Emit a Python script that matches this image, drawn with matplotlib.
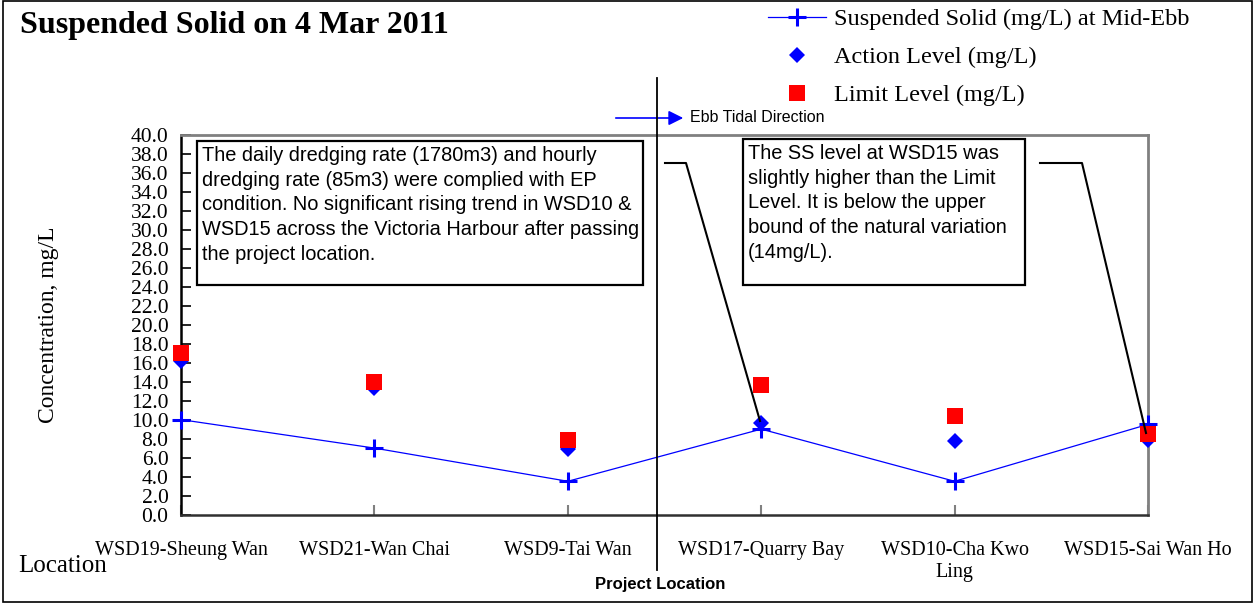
import matplotlib
matplotlib.use("Agg")
import matplotlib.pyplot as plt
from matplotlib.patches import Rectangle, FancyArrowPatch

# ---- data ----
locations = ["WSD19-Sheung Wan", "WSD21-Wan Chai", "WSD9-Tai Wan",
             "WSD17-Quarry Bay", "WSD10-Cha Kwo\nLing", "WSD15-Sai Wan Ho"]
ss_mid_ebb = [10.0, 7.0, 3.5, 9.0, 3.5, 9.5]
action_level = [16.2, 13.3, 6.9, 9.6, 7.7, 7.8]
limit_level = [17.0, 14.0, 7.8, 13.7, 10.4, 8.5]
y_ticks = [i * 2.0 for i in range(21)]
y_tick_labels = ["%.1f" % v for v in y_ticks]

title = "Suspended Solid on 4 Mar 2011"
note_left = ("The daily dredging rate (1780m3) and hourly\n"
             "dredging rate (85m3) were complied with EP\n"
             "condition. No significant rising trend in WSD10 &\n"
             "WSD15 across the Victoria Harbour after passing\n"
             "the project location.")
note_right = ("The SS level at WSD15 was\n"
              "slightly higher than the Limit\n"
              "Level. It is below the upper\n"
              "bound of the natural variation\n"
              "(14mg/L).")

SERIF = "Liberation Serif"
SANS = "Liberation Sans"

W, H = 1255, 603
fig = plt.figure(figsize=(W / 100, H / 100), dpi=100)
fig.patch.set_facecolor("white")

# axes in pixel geometry
L, R, T, B = 181, 1148, 135, 514.5
ax = fig.add_axes([L / W, 1 - B / H, (R - L) / W, (B - T) / H])

x = list(range(len(locations)))
ln_ss, = ax.plot(x, ss_mid_ebb, color="#0000FF", lw=0.9, marker="+",
                 markersize=13, markeredgewidth=2.2, zorder=3, clip_on=False)
ln_act, = ax.plot(x, action_level, ls="none", marker="D", color="#0000FF",
                  markersize=8.3, markeredgewidth=0, zorder=4, clip_on=False)
ln_lim, = ax.plot(x, limit_level, ls="none", marker="s", color="#FF0000",
                  markersize=11.5, markeredgewidth=0, zorder=5, clip_on=False)

ax.set_xlim(0, len(locations) - 1)
ax.set_ylim(0, 40)
ax.set_yticks(y_ticks)
ax.set_yticklabels(y_tick_labels, fontfamily=SERIF, fontsize=15.5)
ax.set_xticks(x)
ax.set_xticklabels(locations, fontfamily=SERIF, fontsize=14.5, va="top",
                   linespacing=1.25)
ax.tick_params(axis="y", direction="in", length=7, width=1.2, color="black",
               pad=9)
ax.tick_params(axis="x", direction="in", length=7, width=1.5, color="#808080",
               pad=19)
for sp in ["top", "right"]:
    ax.spines[sp].set_color("#808080")
    ax.spines[sp].set_linewidth(2)
for sp in ["left", "bottom"]:
    ax.spines[sp].set_color("black")
    ax.spines[sp].set_linewidth(1.8)
ax.spines["bottom"].set_color("#303030")

ax.set_ylabel("Concentration, mg/L", fontfamily=SERIF, fontsize=17,
              labelpad=52)

# pixel -> axes fraction helpers
def fx(px):
    return (px - L) / (R - L)

def fy(py):
    return (B - py) / (B - T)

# project location vertical line
ax.plot([fx(657), fx(657)], [fy(78), fy(570)], transform=ax.transAxes,
        color="black", lw=1.3, clip_on=False, zorder=6)
fig.text(660 / W, 1 - 584 / H, "Project Location", fontfamily=SANS,
         fontweight="bold", fontsize=12, ha="center", va="center")

# ebb tidal direction arrow
arr = FancyArrowPatch((fx(613), fy(118)), (fx(686), fy(118)),
                      transform=ax.transAxes, arrowstyle="-|>",
                      mutation_scale=22, color="#0000FF", lw=1.2,
                      clip_on=False)
ax.add_patch(arr)
fig.text(690 / W, 1 - 118 / H, "Ebb Tidal Direction", fontfamily=SANS,
         fontsize=11.5, ha="left", va="center")

# text boxes
for (x0, y0, x1, y1, txt) in [(197, 141, 643, 285, note_left),
                              (743, 139, 1025, 285, note_right)]:
    rect = Rectangle((fx(x0), fy(y1)), fx(x1) - fx(x0), fy(y0) - fy(y1),
                     transform=ax.transAxes, facecolor="white",
                     edgecolor="black", lw=1.6, zorder=7, clip_on=False)
    ax.add_patch(rect)
    ax.text(fx(x0 + 5), fy(y0 + 5), txt, transform=ax.transAxes,
            fontfamily=SANS, fontsize=14.4, ha="left", va="top",
            linespacing=1.38, zorder=8)

# callout lines
ax.plot([fx(665), fx(686), fx(760)], [fy(163), fy(163), fy(421)],
        transform=ax.transAxes, color="black", lw=1.5, zorder=9, clip_on=False)
ax.plot([fx(1040), fx(1082), fx(1146)], [fy(163), fy(163), fy(433)],
        transform=ax.transAxes, color="black", lw=1.5, zorder=9, clip_on=False)

# title and location label
fig.text(20 / W, 1 - 26 / H, title, fontfamily=SERIF, fontweight="bold",
         fontsize=23, ha="left", va="center")
fig.text(18 / W, 1 - 566 / H, "Location", fontfamily=SERIF, fontsize=18,
         ha="left", va="center")

# legend
leg = fig.legend([ln_ss, ln_act, ln_lim],
                 ["Suspended Solid (mg/L) at Mid-Ebb", "Action Level (mg/L)",
                  "Limit Level (mg/L)"],
                 loc="upper left", bbox_to_anchor=(768 / W, 1 - 8 / H),
                 frameon=False, prop={"family": SERIF, "size": 17.5},
                 handlelength=2.4, handletextpad=0.3, labelspacing=0.66,
                 borderpad=0, borderaxespad=0)

# outer frame
fig.add_artist(Rectangle((0.002, 0.002), 0.996, 0.996, transform=fig.transFigure,
                         fill=False, edgecolor="black", lw=1.2))

fig.savefig("out.png", dpi=100)
